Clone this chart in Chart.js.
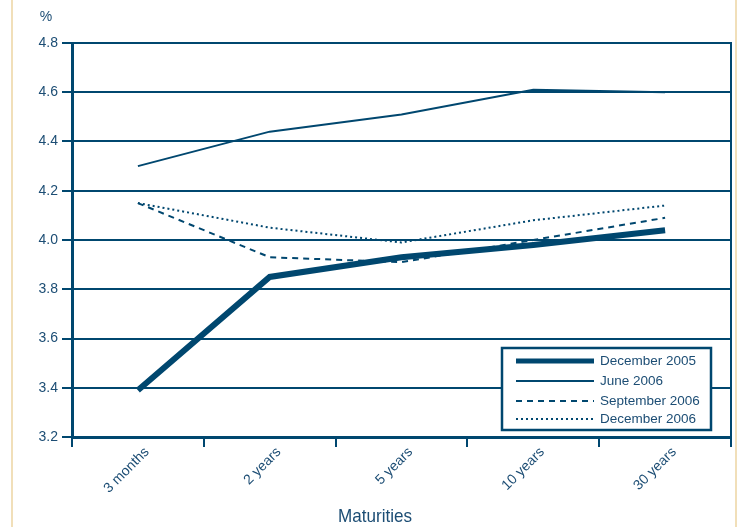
<!DOCTYPE html>
<html>
<head>
<meta charset="utf-8">
<script src="https://cdn.jsdelivr.net/npm/chart.js@4/dist/chart.umd.min.js"></script>
<style>
  html, body { margin: 0; padding: 0; background: #fff; }
  canvas { display: block; }
</style>
</head>
<body>
<canvas id="yieldChart" width="737" height="527"></canvas>
<script>
const maturities = ['3 months', '2 years', '5 years', '10 years', '30 years'];
const dec2005 = [3.39, 3.85, 3.93, 3.98, 4.04];
const jun2006 = [4.30, 4.44, 4.51, 4.61, 4.60];
const sep2006 = [4.15, 3.93, 3.91, 4.00, 4.09];
const dec2006 = [4.15, 4.05, 3.99, 4.08, 4.14];
const yMin = 3.2, yMax = 4.8, yStep = 0.2;
const xTitle = 'Maturities';

const navy = '#00476f';
const textColor = '#1c4d74';
const tan = '#f1dfb9';

// frame, "%" label, axis title, side rules and the boxed legend
const decorPlugin = {
    id: 'decor',
    beforeDraw(chart) {
        const ctx = chart.ctx;
        ctx.save();
        ctx.fillStyle = tan;
        ctx.fillRect(11, 0, 2, chart.height);
        ctx.fillRect(735, 0, 2, chart.height);
        ctx.restore();
    },
    afterDraw(chart) {
        const ctx = chart.ctx;
        const a = chart.chartArea;
        ctx.save();
        ctx.strokeStyle = navy;
        ctx.lineWidth = 2;
        ctx.beginPath();
        ctx.moveTo(a.right, a.top - 1);
        ctx.lineTo(a.right, a.bottom);
        ctx.stroke();

        ctx.fillStyle = textColor;
        ctx.font = '14px "Liberation Sans", Arial, sans-serif';
        ctx.textAlign = 'center';
        ctx.textBaseline = 'middle';
        ctx.fillText('%', 46, 17);

        // condensed axis title
        ctx.font = '19px "Liberation Sans", Arial, sans-serif';
        ctx.textBaseline = 'alphabetic';
        const w = ctx.measureText(xTitle).width;
        ctx.save();
        ctx.translate(375, 522);
        ctx.scale(74 / w, 1);
        ctx.fillText(xTitle, 0, 0);
        ctx.restore();

        // legend box
        const bx = 502, by = 348, bw = 209, bh = 82;
        ctx.fillStyle = '#fff';
        ctx.fillRect(bx, by, bw, bh);
        ctx.lineWidth = 2.5;
        ctx.strokeRect(bx, by, bw, bh);
        const rows = [361, 381, 401, 419];
        ctx.font = '13.5px "Liberation Sans", Arial, sans-serif';
        ctx.textAlign = 'left';
        ctx.textBaseline = 'middle';
        chart.data.datasets.forEach((ds, i) => {
            ctx.strokeStyle = navy;
            ctx.lineWidth = ds.legendWidth;
            ctx.setLineDash(ds.borderDash || []);
            ctx.beginPath();
            ctx.moveTo(516, rows[i]);
            ctx.lineTo(594, rows[i]);
            ctx.stroke();
            ctx.setLineDash([]);
            ctx.fillStyle = textColor;
            ctx.fillText(ds.label, 600, rows[i]);
        });
        ctx.restore();
    }
};

function makeSet(label, data, width, dash, legendWidth) {
    return {
        label: label,
        data: data,
        borderColor: navy,
        backgroundColor: navy,
        borderWidth: width,
        borderDash: dash,
        legendWidth: legendWidth,
        pointRadius: 0,
        tension: 0,
        fill: false
    };
}

new Chart(document.getElementById('yieldChart'), {
    type: 'line',
    data: {
        labels: maturities,
        datasets: [
            makeSet('December 2005', dec2005, 6, [], 5),
            makeSet('June 2006', jun2006, 2, [], 2),
            makeSet('September 2006', sep2006, 2, [6, 5], 2),
            makeSet('December 2006', dec2006, 2, [2, 3], 2)
        ]
    },
    options: {
        responsive: false,
        animation: false,
        layout: { padding: { top: 43, right: 6, left: 0, bottom: 0 } },
        plugins: {
            legend: { display: false },
            tooltip: { enabled: false }
        },
        scales: {
            x: {
                type: 'category',
                offset: true,
                afterFit: s => { s.height = 90; },
                grid: {
                    offset: true,
                    drawOnChartArea: false,
                    drawTicks: true,
                    tickLength: 10,
                    color: navy,
                    lineWidth: 2
                },
                border: { display: true, color: navy, width: 3 },
                ticks: {
                    autoSkip: false,
                    minRotation: 45,
                    maxRotation: 45,
                    labelOffset: 9,
                    padding: -3,
                    color: textColor,
                    font: { family: '"Liberation Sans", Arial, sans-serif', size: 14 }
                }
            },
            y: {
                min: yMin,
                max: yMax,
                afterFit: s => { s.width = 72; },
                grid: {
                    color: navy,
                    lineWidth: 2,
                    tickLength: 10
                },
                border: { display: true, color: navy, width: 3 },
                ticks: {
                    stepSize: yStep,
                    padding: 4,
                    color: textColor,
                    font: { family: '"Liberation Sans", Arial, sans-serif', size: 14 },
                    callback: v => Number(v).toFixed(1)
                }
            }
        }
    },
    plugins: [decorPlugin]
});
</script>
</body>
</html>
